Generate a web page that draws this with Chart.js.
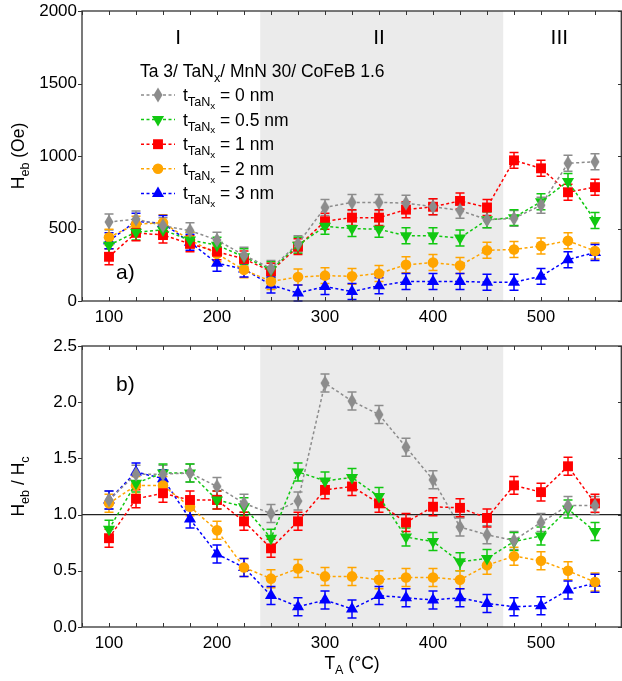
<!DOCTYPE html>
<html>
<head>
<meta charset="utf-8">
<script src="https://cdn.jsdelivr.net/npm/chart.js@4/dist/chart.umd.min.js"></script>
<style>
  body { margin: 0; background: #fff; }
  #wrap { position: relative; width: 622px; height: 681px; }
  #wrap canvas { position: absolute; left: 0; }
</style>
</head>
<body>
<div id="wrap">
  <canvas id="hebChart" width="622" height="335" style="top:0"></canvas>
  <canvas id="ratioChart" width="622" height="346" style="top:335px"></canvas>
</div>
<script>
// annealing temperatures (°C)
const temps = [100, 125, 150, 175, 200, 225, 250, 275, 300, 325, 350, 375, 400, 425, 450, 475, 500, 525, 550];
// TaNx thickness (nm) for each series
const thickLabels = ['0', '0.5', '1', '2', '3'];

// exchange bias field Heb (Oe)
const heb0  = [545, 565, 520, 485, 420, 315, 225, 395, 645, 680, 680, 675, 650, 625, 560, 570, 660, 950, 960];
const heb05 = [385, 475, 490, 420, 385, 305, 215, 385, 515, 500, 495, 450, 450, 435, 560, 575, 685, 825, 555];
const heb1  = [305, 470, 455, 395, 340, 290, 205, 375, 550, 575, 575, 630, 650, 690, 645, 970, 915, 750, 785];
const heb2  = [440, 530, 540, 420, 325, 215, 135, 165, 175, 170, 190, 250, 265, 245, 350, 355, 380, 415, 345];
const heb3  = [415, 550, 535, 405, 260, 220, 110, 55, 100, 65, 105, 135, 135, 135, 130, 130, 170, 285, 335];

// ratio Heb / Hc
const ratio0  = [1.13, 1.36, 1.36, 1.37, 1.25, 1.10, 1.01, 1.12, 2.17, 2.01, 1.89, 1.60, 1.31, 0.89, 0.82, 0.77, 0.93, 1.08, 1.08];
const ratio05 = [0.87, 1.28, 1.37, 1.37, 1.13, 1.07, 0.79, 1.38, 1.30, 1.33, 1.16, 0.80, 0.76, 0.58, 0.61, 0.76, 0.81, 1.05, 0.85];
const ratio1  = [0.79, 1.14, 1.19, 1.13, 1.13, 0.94, 0.70, 0.94, 1.22, 1.25, 1.10, 0.93, 1.07, 1.06, 0.97, 1.26, 1.20, 1.43, 1.10];
const ratio2  = [1.10, 1.26, 1.26, 1.07, 0.86, 0.53, 0.43, 0.52, 0.45, 0.45, 0.42, 0.44, 0.44, 0.42, 0.55, 0.63, 0.59, 0.50, 0.40];
const ratio3  = [1.13, 1.38, 1.32, 0.96, 0.65, 0.53, 0.28, 0.18, 0.24, 0.16, 0.28, 0.26, 0.24, 0.26, 0.21, 0.18, 0.19, 0.33, 0.39];

const hebErr = 55;
const ratioErr = 0.08;

// regime boundaries (°C) and names
const regimeBounds = [240, 465];
const regimeNames = ['I', 'II', 'III'];
const regimeLabelX = [164, 350, 517];

const xTickValues = [100, 200, 300, 400, 500];
const hebTickValues = [0, 500, 1000, 1500, 2000];
const ratioTickValues = [0, 0.5, 1.0, 1.5, 2.0, 2.5];

const FONT = '"Liberation Sans", Arial, sans-serif';
const seriesColors = ['#8c8c8c', '#11c811', '#ff0000', '#ffa500', '#0000ff'];

function makeDiamond(color) {
    const c = document.createElement('canvas');
    c.width = 10;
    c.height = 16;
    const g = c.getContext('2d');
    g.fillStyle = color;
    g.beginPath();
    g.moveTo(5, 0.5);
    g.lineTo(9.5, 8);
    g.lineTo(5, 15.5);
    g.lineTo(0.5, 8);
    g.closePath();
    g.fill();
    return c;
}

const markerStyles = [
    { style: makeDiamond(seriesColors[0]), radius: 7, rotation: 0 },
    { style: 'triangle', radius: 7, rotation: 180 },
    { style: 'rect', radius: 7, rotation: 0 },
    { style: 'circle', radius: 5.3, rotation: 0 },
    { style: 'triangle', radius: 7, rotation: 0 }
];

function buildDatasets(seriesList) {
    return seriesList.map((vals, i) => ({
        label: thickLabels[i],
        data: temps.map((t, k) => ({ x: t, y: vals[k] })),
        borderColor: seriesColors[i],
        backgroundColor: seriesColors[i],
        borderWidth: 1.5,
        borderDash: [3, 2.5],
        pointStyle: markerStyles[i].style,
        pointRadius: markerStyles[i].radius,
        pointRotation: markerStyles[i].rotation,
        pointBorderColor: seriesColors[i],
        pointBorderWidth: 0,
        fill: false,
        order: i
    }));
}

// text with sub / sub-sub scripts: parts = [[text, level], ...]
function drawParts(ctx, parts, x, y, size, align) {
    const sizes = [size, size * 0.72, size * 0.56];
    const shifts = [0, size * 0.28, size * 0.45];
    let total = 0;
    const widths = parts.map(([t, lv]) => {
        ctx.font = sizes[lv] + 'px ' + FONT;
        const w = ctx.measureText(t).width;
        total += w;
        return w;
    });
    let cx = align === 'center' ? x - total / 2 : x;
    ctx.textAlign = 'left';
    ctx.textBaseline = 'alphabetic';
    parts.forEach(([t, lv], k) => {
        ctx.font = sizes[lv] + 'px ' + FONT;
        ctx.fillText(t, cx, y + shifts[lv]);
        cx += widths[k];
    });
}

// shaded regime II, reference line, error bars, frame, ticks and all annotations
const panelDecor = {
    id: 'panelDecor',
    beforeDraw(chart, args, o) {
        const { ctx, chartArea: a } = chart;
        const x = chart.scales.x;
        ctx.save();
        ctx.fillStyle = '#ebebeb';
        const x0 = x.getPixelForValue(regimeBounds[0]);
        const x1 = x.getPixelForValue(regimeBounds[1]);
        ctx.fillRect(x0, a.top, x1 - x0, a.bottom - a.top);
        ctx.restore();
    },
    beforeDatasetsDraw(chart, args, o) {
        const { ctx, chartArea: a } = chart;
        const y = chart.scales.y;
        ctx.save();
        if (o.refLine !== undefined) {
            const py = y.getPixelForValue(o.refLine);
            ctx.strokeStyle = '#222';
            ctx.lineWidth = 1.2;
            ctx.beginPath();
            ctx.moveTo(a.left, py);
            ctx.lineTo(a.right, py);
            ctx.stroke();
        }
        chart.data.datasets.forEach((ds, i) => {
            const meta = chart.getDatasetMeta(i);
            ctx.strokeStyle = ds.borderColor;
            ctx.lineWidth = 1.5;
            ctx.setLineDash([]);
            meta.data.forEach((pt, k) => {
                const v = ds.data[k].y;
                const top = y.getPixelForValue(v + o.err);
                const bot = y.getPixelForValue(v - o.err);
                ctx.beginPath();
                ctx.moveTo(pt.x, top);
                ctx.lineTo(pt.x, bot);
                ctx.moveTo(pt.x - 4.5, top);
                ctx.lineTo(pt.x + 4.5, top);
                ctx.moveTo(pt.x - 4.5, bot);
                ctx.lineTo(pt.x + 4.5, bot);
                ctx.stroke();
            });
        });
        ctx.restore();
    },
    afterDraw(chart, args, o) {
        const { ctx, chartArea: a } = chart;
        const x = chart.scales.x;
        const y = chart.scales.y;
        ctx.save();
        ctx.strokeStyle = '#333';
        ctx.lineWidth = 1.3;
        ctx.strokeRect(a.left, a.top, a.right - a.left - 0.7, a.bottom - a.top);

        ctx.lineWidth = 1;
        ctx.beginPath();
        for (let t = 75; t <= 575; t += 25) {
            const px = Math.round(x.getPixelForValue(t)) + 0.5;
            ctx.moveTo(px, a.bottom);
            ctx.lineTo(px, a.bottom - 4);
            ctx.moveTo(px, a.top);
            ctx.lineTo(px, a.top + 4);
        }
        o.yTicks.forEach(v => {
            const py = Math.round(y.getPixelForValue(v)) + 0.5;
            ctx.moveTo(a.left - 4, py);
            ctx.lineTo(a.left, py);
            ctx.moveTo(a.right - 4, py);
            ctx.lineTo(a.right, py);
        });
        ctx.stroke();

        ctx.fillStyle = '#000';
        // axis titles
        ctx.save();
        ctx.translate(18, (a.top + a.bottom) / 2);
        ctx.rotate(-Math.PI / 2);
        drawParts(ctx, o.yTitle, 0, 6, 17.5, 'center');
        ctx.restore();
        if (o.xTitle) {
            drawParts(ctx, o.xTitle, (a.left + a.right) / 2, a.bottom + 42, 17.5, 'center');
        }
        // panel letter
        drawParts(ctx, [[o.letter, 0]], a.left + 34, o.letterY, 21, 'left');

        if (o.regimes) {
            regimeNames.forEach((n, i) => {
                drawParts(ctx, [[n, 0]], x.getPixelForValue(regimeLabelX[i]), a.top + 33, 21, 'center');
            });
        }

        if (o.legend) {
            drawParts(ctx, [['Ta 3/ TaN', 0], ['x', 1], ['/ MnN 30/ CoFeB 1.6', 0]], 140, 77, 17.5, 'left');
            chart.data.datasets.forEach((ds, i) => {
                const cy = 95 + i * 24.6;
                ctx.save();
                ctx.strokeStyle = ds.borderColor;
                ctx.lineWidth = 1.5;
                ctx.setLineDash([3, 2.5]);
                ctx.beginPath();
                ctx.moveTo(141, cy);
                ctx.lineTo(175, cy);
                ctx.stroke();
                ctx.restore();
                ctx.fillStyle = ds.backgroundColor;
                ctx.strokeStyle = ds.borderColor;
                Chart.helpers.drawPoint(ctx, {
                    pointStyle: ds.pointStyle,
                    radius: ds.pointRadius,
                    rotation: ds.pointRotation,
                    borderWidth: 0
                }, 158, cy);
                ctx.fillStyle = '#000';
                drawParts(ctx, [['t', 0], ['TaN', 1], ['x', 2], [' = ' + ds.label + ' nm', 0]], 183, cy + 6, 17.5, 'left');
            });
        }
        ctx.restore();
    }
};

function makeChart(id, seriesList, opts) {
    return new Chart(document.getElementById(id), {
        type: 'line',
        data: { datasets: buildDatasets(seriesList) },
        options: {
            responsive: false,
            animation: false,
            layout: { autoPadding: false, padding: { top: 11, right: 0, left: 0, bottom: 0 } },
            plugins: {
                legend: { display: false },
                tooltip: { enabled: false },
                panelDecor: opts.decor
            },
            scales: {
                x: {
                    type: 'linear',
                    min: 75,
                    max: 575,
                    grid: { display: false, drawTicks: false },
                    border: { display: false },
                    afterBuildTicks: scale => { scale.ticks = xTickValues.map(v => ({ value: v })); },
                    afterFit: scale => {
                        scale.height = opts.xHeight;
                        scale.paddingLeft = 0;
                        scale.paddingRight = 0;
                    },
                    ticks: {
                        padding: 6,
                        color: '#000',
                        font: { family: FONT, size: 17 }
                    }
                },
                y: {
                    min: opts.yMin,
                    max: opts.yMax,
                    grid: { display: false, drawTicks: false },
                    border: { display: false },
                    afterBuildTicks: scale => { scale.ticks = opts.yTicks.map(v => ({ value: v })); },
                    afterFit: scale => {
                        scale.width = 82;
                        scale.paddingTop = 0;
                        scale.paddingBottom = 0;
                    },
                    ticks: {
                        padding: 5,
                        color: '#000',
                        font: { family: FONT, size: 17 },
                        callback: opts.yFormat
                    }
                }
            }
        },
        plugins: [panelDecor]
    });
}

makeChart('hebChart', [heb0, heb05, heb1, heb2, heb3], {
    yMin: 0,
    yMax: 2000,
    yTicks: hebTickValues,
    yFormat: v => String(v),
    xHeight: 34,
    decor: {
        err: hebErr,
        yTicks: hebTickValues,
        yTitle: [['H', 0], ['eb', 1], [' (Oe)', 0]],
        letter: 'a)',
        letterY: 279,
        regimes: true,
        legend: true
    }
});

makeChart('ratioChart', [ratio0, ratio05, ratio1, ratio2, ratio3], {
    yMin: 0,
    yMax: 2.5,
    yTicks: ratioTickValues,
    yFormat: v => v.toFixed(1),
    xHeight: 54,
    decor: {
        err: ratioErr,
        refLine: 1.0,
        yTicks: ratioTickValues,
        yTitle: [['H', 0], ['eb', 1], [' / H', 0], ['c', 1]],
        xTitle: [['T', 0], ['A', 1], [' (°C)', 0]],
        letter: 'b)',
        letterY: 56,
        regimes: false,
        legend: false
    }
});
</script>
</body>
</html>
